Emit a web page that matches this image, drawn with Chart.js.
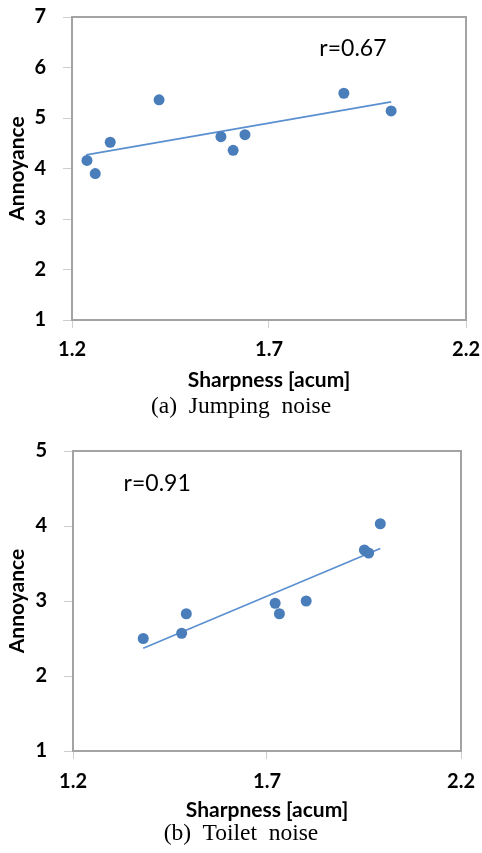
<!DOCTYPE html>
<html>
<head>
<meta charset="utf-8">
<script src="https://cdn.jsdelivr.net/npm/chart.js@4.4.1/dist/chart.umd.min.js"></script>
<style>
  body { margin: 0; background: #fff; width: 482px; height: 853px; position: relative; overflow: hidden; }
  .panel { position: absolute; left: 0; width: 482px; height: 400px; }
  .caption { position: absolute; left: 0; width: 482px; text-align: center; font-family: "Liberation Serif", serif; font-size: 23.5px; color: #000; white-space: pre; line-height: 24px; }
</style>
</head>
<body>
<div class="panel" style="top:0"><canvas id="jumping" width="482" height="400"></canvas></div>
<div class="caption" style="top:393px">(a)  Jumping  noise</div>
<div class="panel" style="top:430px"><canvas id="toilet" width="482" height="400"></canvas></div>
<div class="caption" style="top:820px">(b)  Toilet  noise</div>
<script>
// Jumping noise
const jumpSharpness = [1.238, 1.259, 1.297, 1.421, 1.578, 1.609, 1.639, 1.890, 2.010];
const jumpAnnoyance = [4.16, 3.90, 4.52, 5.36, 4.63, 4.36, 4.67, 5.49, 5.14];
const jumpFitX = [1.236, 2.010];
const jumpFitY = [4.27, 5.32];

// Toilet noise
const toiletSharpness = [1.381, 1.480, 1.492, 1.721, 1.732, 1.801, 1.951, 1.962, 1.992];
const toiletAnnoyance = [2.50, 2.57, 2.83, 2.97, 2.83, 3.00, 3.68, 3.64, 4.03];
const toiletFitX = [1.381, 1.992];
const toiletFitY = [2.37, 3.70];

const xTicks = [1.2, 1.7, 2.2];
const jumpYTicks = [1, 2, 3, 4, 5, 6, 7];
const toiletYTicks = [1, 2, 3, 4, 5];

const BLUE = "#4a7ebb";
const AXIS_GREY = "#a3a3a3";
const TICK_GREY = "#cdcdcd";
const SANS = "Lato, 'Open Sans', sans-serif";

const toPoints = (xs, ys) => xs.map((x, i) => ({ x: x, y: ys[i] }));

// plot frame plus the correlation label
const framePlugin = {
  id: "frame",
  afterDraw(chart) {
    const { ctx, chartArea: a, scales } = chart;
    ctx.save();
    ctx.strokeStyle = AXIS_GREY;
    ctx.lineWidth = 2;
    ctx.strokeRect(a.left, a.top, a.right - a.left, a.bottom - a.top);
    const lab = chart.options.plugins.frame;
    ctx.fillStyle = "#000";
    ctx.font = "23px " + SANS;
    ctx.textAlign = "center";
    ctx.textBaseline = "middle";
    ctx.fillText(lab.text, scales.x.getPixelForValue(lab.x), scales.y.getPixelForValue(lab.y));
    ctx.restore();
  }
};

function makeChart(id, xs, ys, fitX, fitY, yTicks, geo, label) {
  return new Chart(document.getElementById(id), {
    type: "scatter",
    data: {
      datasets: [
        {
          data: toPoints(xs, ys),
          backgroundColor: BLUE,
          borderColor: BLUE,
          pointRadius: 5.5,
          pointBorderWidth: 0
        },
        {
          data: toPoints(fitX, fitY),
          showLine: true,
          borderColor: "#5a8fd0",
          borderWidth: 1.6,
          pointRadius: 0
        }
      ]
    },
    options: {
      responsive: false,
      animation: false,
      events: [],
      layout: { padding: { left: 0, top: geo.top, right: geo.right, bottom: 0 } },
      plugins: {
        legend: { display: false },
        tooltip: { enabled: false },
        frame: label
      },
      scales: {
        x: {
          type: "linear",
          min: xTicks[0],
          max: xTicks[xTicks.length - 1],
          afterBuildTicks: s => { s.ticks = xTicks.map(v => ({ value: v })); },
          afterFit: s => {
            s.height = geo.xHeight;
            s.paddingLeft = 0;
            s.paddingRight = 0;
          },
          grid: { drawOnChartArea: false, drawTicks: true, tickLength: 8, color: TICK_GREY },
          border: { display: false },
          ticks: {
            padding: geo.xPad,
            color: "#000",
            font: { family: SANS, size: 20, weight: "bold" },
            callback: v => v.toFixed(1)
          },
          title: {
            display: true,
            text: "Sharpness [acum]",
            color: "#000",
            padding: { top: 0, bottom: 7 },
            font: { family: SANS, size: 21, weight: "bold" }
          }
        },
        y: {
          type: "linear",
          min: yTicks[0],
          max: yTicks[yTicks.length - 1],
          afterBuildTicks: s => { s.ticks = yTicks.map(v => ({ value: v })); },
          afterFit: s => {
            s.width = geo.left;
            s.paddingTop = 0;
            s.paddingBottom = 0;
          },
          grid: { drawOnChartArea: false, drawTicks: true, tickLength: 9, color: TICK_GREY },
          border: { display: false },
          ticks: {
            padding: 17,
            color: "#000",
            font: { family: SANS, size: 20, weight: "bold" }
          },
          title: {
            display: true,
            text: "Annoyance",
            color: "#000",
            padding: { top: 5, bottom: 0 },
            font: { family: SANS, size: 21, weight: "bold" }
          }
        }
      }
    },
    plugins: [framePlugin]
  });
}

makeChart("jumping", jumpSharpness, jumpAnnoyance, jumpFitX, jumpFitY, jumpYTicks,
  { top: 17, right: 16, left: 72, xHeight: 80, xPad: 10 },
  { text: "r=0.67", x: 1.913, y: 6.37 });

makeChart("toilet", toiletSharpness, toiletAnnoyance, toiletFitX, toiletFitY, toiletYTicks,
  { top: 21, right: 21, left: 73, xHeight: 79, xPad: 11 },
  { text: "r=0.91", x: 1.417, y: 4.57 });
</script>
</body>
</html>
